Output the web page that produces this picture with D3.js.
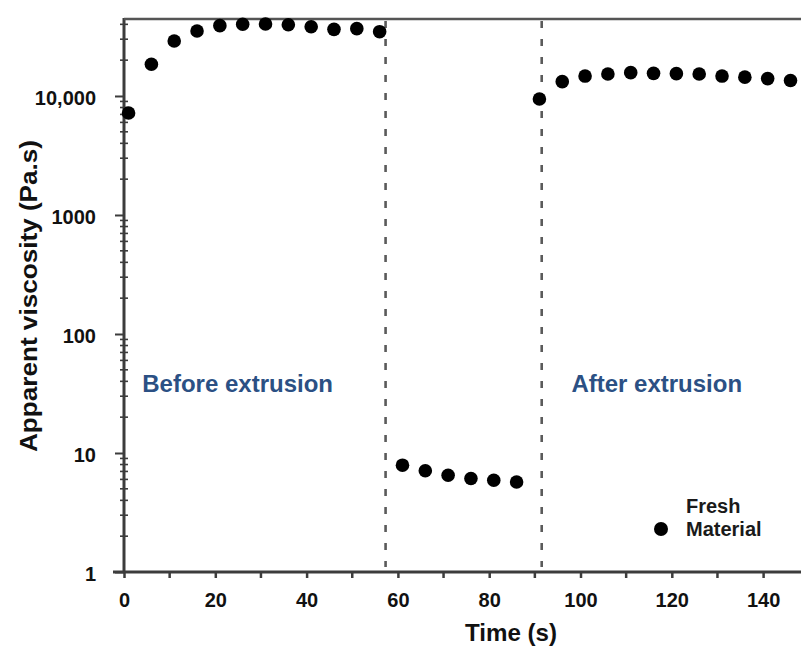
<!DOCTYPE html>
<html>
<head>
<meta charset="utf-8">
<script src="https://cdn.jsdelivr.net/npm/d3@7"></script>
<style>
  html, body { margin: 0; padding: 0; background: #fff; }
  svg { display: block; font-family: "Liberation Sans", Arial, sans-serif; }
</style>
</head>
<body>
<svg id="chart" width="801" height="649"></svg>
<script>
// ---- data ----
const beforeTime = [1, 6, 11, 16, 21, 26, 31, 36, 41, 46, 51, 56];
const beforeVisc = [7200, 18500, 29000, 35200, 39000, 40100, 40300, 39700, 38200, 36300, 36800, 34700];
const duringTime = [61, 66, 71, 76, 81, 86];
const duringVisc = [7.9, 7.1, 6.5, 6.1, 5.9, 5.7];
const afterTime = [91, 96, 101, 106, 111, 116, 121, 126, 131, 136, 141, 146];
const afterVisc = [9440, 13200, 14700, 15300, 15700, 15500, 15400, 15300, 14700, 14400, 14000, 13500];
const phaseBoundaries = [57.3, 91.5];
const xTickValues = [0, 20, 40, 60, 80, 100, 120, 140];
const xMinorTicks = [10, 30, 50, 70, 90, 110, 130];
const yTickValues = [1, 10, 100, 1000, 10000];
const yTickLabels = ["1", "10", "100", "1000", "10,000"];
const phaseLabels = ["Before extrusion", "After extrusion"];
const phaseLabelTimes = [4, 98];
const phaseLabelValue = 32.6;
const legendLabel = ["Fresh", "Material"];

(function () {
// ---- layout ----
const svg = d3.select("#chart");
const mLeft = 124, mRight = 801, mTop = 19, mBottom = 572;

const x = d3.scaleLinear().domain([0, 148.3]).range([mLeft, mRight]);
const y = d3.scaleLog().domain([1, 44350]).range([mBottom, mTop]);

const axisColor = "#3c3c3c";

// minor y ticks
const yMinor = [];
for (let d = 1; d <= 10000; d *= 10) {
  for (let k = 2; k <= 9; k++) {
    const v = d * k;
    if (v < 44350) yMinor.push(v);
  }
}

// y axis
const yAxis = d3.axisLeft(y)
  .tickValues(yTickValues)
  .tickFormat((d, i) => yTickLabels[i])
  .tickSize(9)
  .tickPadding(19);
const gy = svg.append("g").attr("transform", `translate(${mLeft},0)`).call(yAxis);
gy.select(".domain").remove();
gy.selectAll(".tick line").attr("stroke", axisColor).attr("stroke-width", 2);
gy.selectAll(".tick text")
  .attr("fill", "#111")
  .attr("font-size", 20)
  .attr("font-weight", "bold")
  .attr("dy", "0.42em");

svg.append("g").selectAll("line").data(yMinor).join("line")
  .attr("x1", mLeft - 4).attr("x2", mLeft + 4)
  .attr("y1", d => y(d)).attr("y2", d => y(d))
  .attr("stroke", axisColor).attr("stroke-width", 1.6);

// x axis
const xAxis = d3.axisBottom(x)
  .tickValues(xTickValues)
  .tickFormat(d3.format("d"))
  .tickSize(6)
  .tickPadding(15);
const gx = svg.append("g").attr("transform", `translate(0,${mBottom})`).call(xAxis);
gx.select(".domain").remove();
gx.selectAll(".tick line").attr("stroke", axisColor).attr("stroke-width", 2.5);
gx.selectAll(".tick text")
  .attr("fill", "#111")
  .attr("font-size", 20)
  .attr("font-weight", "bold");

svg.append("g").selectAll("line").data(xMinorTicks).join("line")
  .attr("x1", d => x(d)).attr("x2", d => x(d))
  .attr("y1", mBottom).attr("y2", mBottom + 6)
  .attr("stroke", axisColor).attr("stroke-width", 2.5);

// axis lines / frame
svg.append("line").attr("x1", mLeft - 11).attr("x2", mRight).attr("y1", mBottom).attr("y2", mBottom)
  .attr("stroke", axisColor).attr("stroke-width", 3);
svg.append("line").attr("x1", mLeft).attr("x2", mLeft).attr("y1", mTop - 1).attr("y2", mBottom)
  .attr("stroke", axisColor).attr("stroke-width", 3);
svg.append("line").attr("x1", mLeft).attr("x2", mRight).attr("y1", mTop).attr("y2", mTop)
  .attr("stroke", "#555").attr("stroke-width", 2.5);

// phase boundaries
svg.append("g").selectAll("line").data(phaseBoundaries).join("line")
  .attr("x1", d => x(d)).attr("x2", d => x(d))
  .attr("y1", mTop + 2).attr("y2", mBottom - 5)
  .attr("stroke", "#5a5a5a").attr("stroke-width", 2.6)
  .attr("stroke-dasharray", "7,11");

// points
const pts = [];
beforeTime.forEach((t, i) => pts.push([t, beforeVisc[i]]));
duringTime.forEach((t, i) => pts.push([t, duringVisc[i]]));
afterTime.forEach((t, i) => pts.push([t, afterVisc[i]]));
svg.append("g").selectAll("circle").data(pts).join("circle")
  .attr("cx", d => x(d[0])).attr("cy", d => y(d[1]))
  .attr("r", 6.8).attr("fill", "#000");

// phase labels
svg.append("g").selectAll("text").data(phaseLabels).join("text")
  .attr("x", (d, i) => x(phaseLabelTimes[i]))
  .attr("y", y(phaseLabelValue))
  .attr("font-size", 24).attr("font-weight", "bold")
  .attr("fill", "#2b5084")
  .text(d => d);

// legend
svg.append("circle").attr("cx", 661).attr("cy", 529).attr("r", 7).attr("fill", "#000");
svg.append("g").selectAll("text").data(legendLabel).join("text")
  .attr("x", 686).attr("y", (d, i) => 513 + i * 23)
  .attr("font-size", 20).attr("font-weight", "bold").attr("fill", "#1a1a1a")
  .text(d => d);

// axis titles
svg.append("text")
  .attr("x", 511).attr("y", 641)
  .attr("text-anchor", "middle")
  .attr("font-size", 24).attr("font-weight", "bold").attr("fill", "#111")
  .attr("textLength", 92).attr("lengthAdjust", "spacingAndGlyphs")
  .text("Time (s)");

svg.append("text")
  .attr("transform", "translate(37,296) rotate(-90)")
  .attr("text-anchor", "middle")
  .attr("font-size", 24).attr("font-weight", "bold").attr("fill", "#111")
  .attr("textLength", 312).attr("lengthAdjust", "spacingAndGlyphs")
  .text("Apparent viscosity (Pa.s)");
})();
</script>
</body>
</html>
